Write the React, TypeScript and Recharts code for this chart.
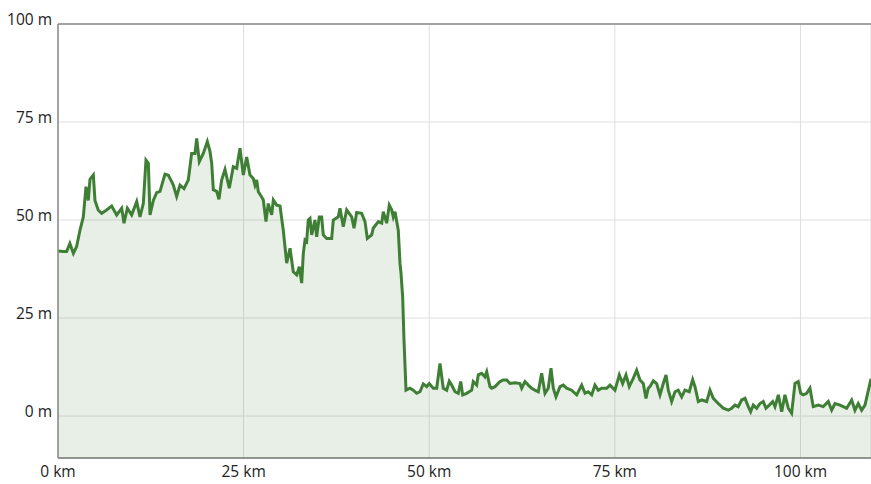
import React from "react";
import { AreaChart, Area, XAxis, YAxis, CartesianGrid, ReferenceLine } from "recharts";

const kmValues: number[] = [
  0.0, 0.71, 1.17, 1.6, 2.07, 2.5, 2.96, 3.41, 3.77, 4.08, 4.31, 4.76, 4.98, 5.43, 5.88, 6.5, 7.23, 7.9, 8.58, 8.89,
  9.34, 9.92, 10.6, 11.04, 11.49, 11.85, 12.17, 12.39, 12.84, 13.29, 13.74, 14.41, 14.86, 15.31, 15.53, 15.98, 16.43,
  16.97, 17.55, 18.0, 18.45, 18.68, 19.03, 19.57, 20.11, 20.47, 20.7, 20.92, 21.37, 21.68, 22.04, 22.49, 23.07, 23.61,
  24.06, 24.51, 24.96, 25.41, 25.86, 26.3, 26.53, 26.76, 26.98, 27.43, 27.65, 28.01, 28.32, 28.78, 29.0, 29.45, 29.9,
  30.34, 30.8, 31.25, 31.69, 32.15, 32.5, 32.82, 33.04, 33.27, 33.49, 33.71, 33.94, 34.17, 34.61, 34.84, 35.19, 35.51,
  35.73, 36.19, 36.86, 37.08, 37.75, 37.98, 38.42, 38.88, 39.56, 39.87, 40.23, 40.9, 41.35, 41.66, 42.25, 42.46, 43.14,
  43.6, 43.81, 44.27, 44.62, 44.94, 45.16, 45.39, 45.83, 46.06, 46.2, 46.42, 46.6, 46.87, 47.41, 47.85, 48.31, 48.75,
  49.2, 49.66, 50.0, 50.54, 51.0, 51.45, 51.89, 52.35, 52.7, 53.02, 53.47, 53.91, 54.24, 54.5, 55.04, 55.72, 55.93,
  56.39, 56.61, 57.06, 57.5, 57.74, 58.18, 58.41, 58.86, 59.53, 59.97, 60.43, 60.88, 61.55, 62.22, 62.45, 62.9, 63.34,
  63.8, 64.24, 64.69, 65.14, 65.59, 66.03, 66.4, 66.71, 67.07, 67.61, 68.05, 68.51, 69.18, 69.86, 70.53, 70.98, 71.42,
  71.88, 72.32, 72.77, 73.23, 73.9, 74.34, 75.02, 75.6, 76.05, 76.5, 76.94, 77.48, 77.94, 78.38, 78.83, 79.19, 79.5,
  79.73, 80.18, 80.63, 81.08, 81.52, 81.89, 82.2, 82.65, 83.1, 83.54, 84.0, 84.44, 85.02, 85.48, 85.79, 86.24, 86.69,
  87.37, 87.81, 88.26, 88.93, 89.6, 90.28, 90.73, 91.18, 91.62, 92.08, 92.53, 92.97, 93.29, 93.64, 94.1, 94.55, 94.99,
  95.35, 95.8, 96.26, 96.57, 97.02, 97.47, 97.91, 98.36, 98.81, 99.26, 99.7, 100.03, 100.38, 100.83, 101.28, 101.72,
  102.4, 103.07, 103.75, 104.2, 104.65, 105.32, 105.76, 106.22, 106.9, 107.34, 107.78, 108.24, 108.69, 109.05, 109.5,
];

const elevations: number[] = [
  42.1, 42.0, 42.0, 44.0, 41.5, 43.2, 47.4, 50.8, 58.5, 55.0, 60.4, 61.5, 55.0, 52.5, 51.7, 52.5, 53.6, 51.3, 53.0, 49.2,
  53.0, 51.3, 54.7, 50.8, 54.2, 65.3, 64.5, 51.3, 55.0, 57.0, 57.3, 61.7, 61.4, 59.8, 58.9, 56.0, 58.9,
  58.0, 60.2, 67.0, 67.0, 70.8, 64.9, 67.0, 70.0, 67.5, 64.5, 57.7, 57.3, 55.3, 60.2, 62.9, 58.1, 63.6,
  63.2, 68.3, 61.5, 66.1, 61.5, 60.6, 58.9, 60.2, 57.2, 55.9, 55.1, 49.6, 54.2, 51.3, 55.1, 53.8, 53.6,
  47.4, 39.0, 42.8, 36.8, 36.0, 38.1, 33.9, 41.5, 44.9, 44.5, 50.0, 50.4, 46.2, 50.0, 45.7, 50.8, 50.8,
  46.2, 45.3, 45.3, 50.0, 50.8, 53.0, 48.3, 52.6, 50.8, 47.9, 51.9, 51.7, 49.6, 45.3, 46.2, 47.9, 49.6,
  49.2, 52.1, 49.2, 53.8, 52.6, 50.8, 52.1, 47.4, 39.0, 36.4, 30.4, 19.4, 6.6, 7.1, 6.6, 5.8, 6.2,
  8.2, 7.5, 8.3, 7.1, 7.1, 13.4, 7.1, 6.6, 8.9, 7.9, 6.2, 5.8, 8.8, 5.4, 5.8, 6.6, 8.8,
  7.9, 10.5, 10.9, 10.0, 11.3, 7.5, 7.1, 7.5, 8.8, 9.2, 9.2, 8.3, 8.5, 8.3, 7.1, 8.8, 7.9,
  7.1, 6.6, 6.2, 10.9, 5.8, 7.1, 12.2, 7.1, 4.9, 7.5, 7.9, 7.1, 6.6, 5.4, 7.9, 5.8, 6.2,
  5.4, 7.9, 6.6, 7.1, 7.1, 7.9, 6.6, 10.5, 8.3, 10.5, 7.5, 9.6, 11.7, 9.2, 8.3, 4.5, 7.1,
  7.5, 9.0, 8.3, 5.4, 8.3, 10.5, 6.6, 3.7, 6.2, 6.6, 4.9, 6.6, 6.2, 9.3, 7.5, 3.7, 4.1,
  3.7, 6.6, 4.5, 3.2, 2.0, 1.5, 2.0, 2.8, 2.4, 4.1, 4.5, 2.4, 1.1, 2.8, 2.0, 3.2, 3.7,
  2.0, 2.8, 3.7, 2.4, 5.4, 1.1, 5.4, 2.0, 0.7, 8.3, 8.8, 5.8, 5.4, 5.8, 7.1, 2.4,
  2.8, 2.4, 3.7, 1.5, 3.2, 2.8, 2.4, 2.0, 4.1, 1.5, 3.2, 1.5, 2.8, 5.8, 9.5,
];

const xTicks: number[] = [0, 25, 50, 75, 100];
const yTicks: number[] = [0, 25, 50, 75, 100];

const data = kmValues.map((km, i) => ({ km, elev: elevations[i] }));

const FONT = "'Open Sans', 'Noto Sans', sans-serif";
const LINE = "#3f7f35";

const XTick = (props: any) => {
  const { x, y, payload } = props;
  return (
    <text x={x} y={y + 18.5} textAnchor="middle" fontFamily={FONT} fontSize={15.5} fill="#222">
      {`${payload.value} km`}
    </text>
  );
};

const YTick = (props: any) => {
  const { x, y, payload } = props;
  return (
    <text x={x - 6} y={y + 1} textAnchor="end" fontFamily={FONT} fontSize={15.5} fill="#222">
      {`${payload.value} m`}
    </text>
  );
};

export default function App() {
  return (
    <div style={{ position: "absolute", left: 0, top: 0, width: 871, height: 484, background: "#fff" }}>
      <AreaChart width={871} height={484} data={data} margin={{ top: 24, right: 0, left: 0, bottom: 0 }}>
        <CartesianGrid stroke="#dedede" strokeWidth={1} />
        <XAxis
          dataKey="km"
          type="number"
          domain={[0, 109.5]}
          ticks={xTicks}
          allowDataOverflow
          height={26}
          tickSize={0}
          tickMargin={0}
          tickLine={false}
          axisLine={{ stroke: "#777", strokeWidth: 1.5 }}
          tick={<XTick />}
          interval={0}
        />
        <YAxis
          type="number"
          domain={[-10.7, 100]}
          ticks={yTicks}
          allowDataOverflow
          width={58}
          tickSize={0}
          tickMargin={0}
          tickLine={false}
          axisLine={{ stroke: "#8a8a8a", strokeWidth: 1.5 }}
          tick={<YTick />}
          interval={0}
        />
        <ReferenceLine y={100} stroke="#8a8a8a" strokeWidth={1.5} />
        <Area
          type="linear"
          dataKey="elev"
          stroke={LINE}
          strokeWidth={3}
          fill={LINE}
          fillOpacity={0.12}
          baseValue={-10.7}
          isAnimationActive={false}
          dot={false}
          activeDot={false}
        />
      </AreaChart>
    </div>
  );
}
